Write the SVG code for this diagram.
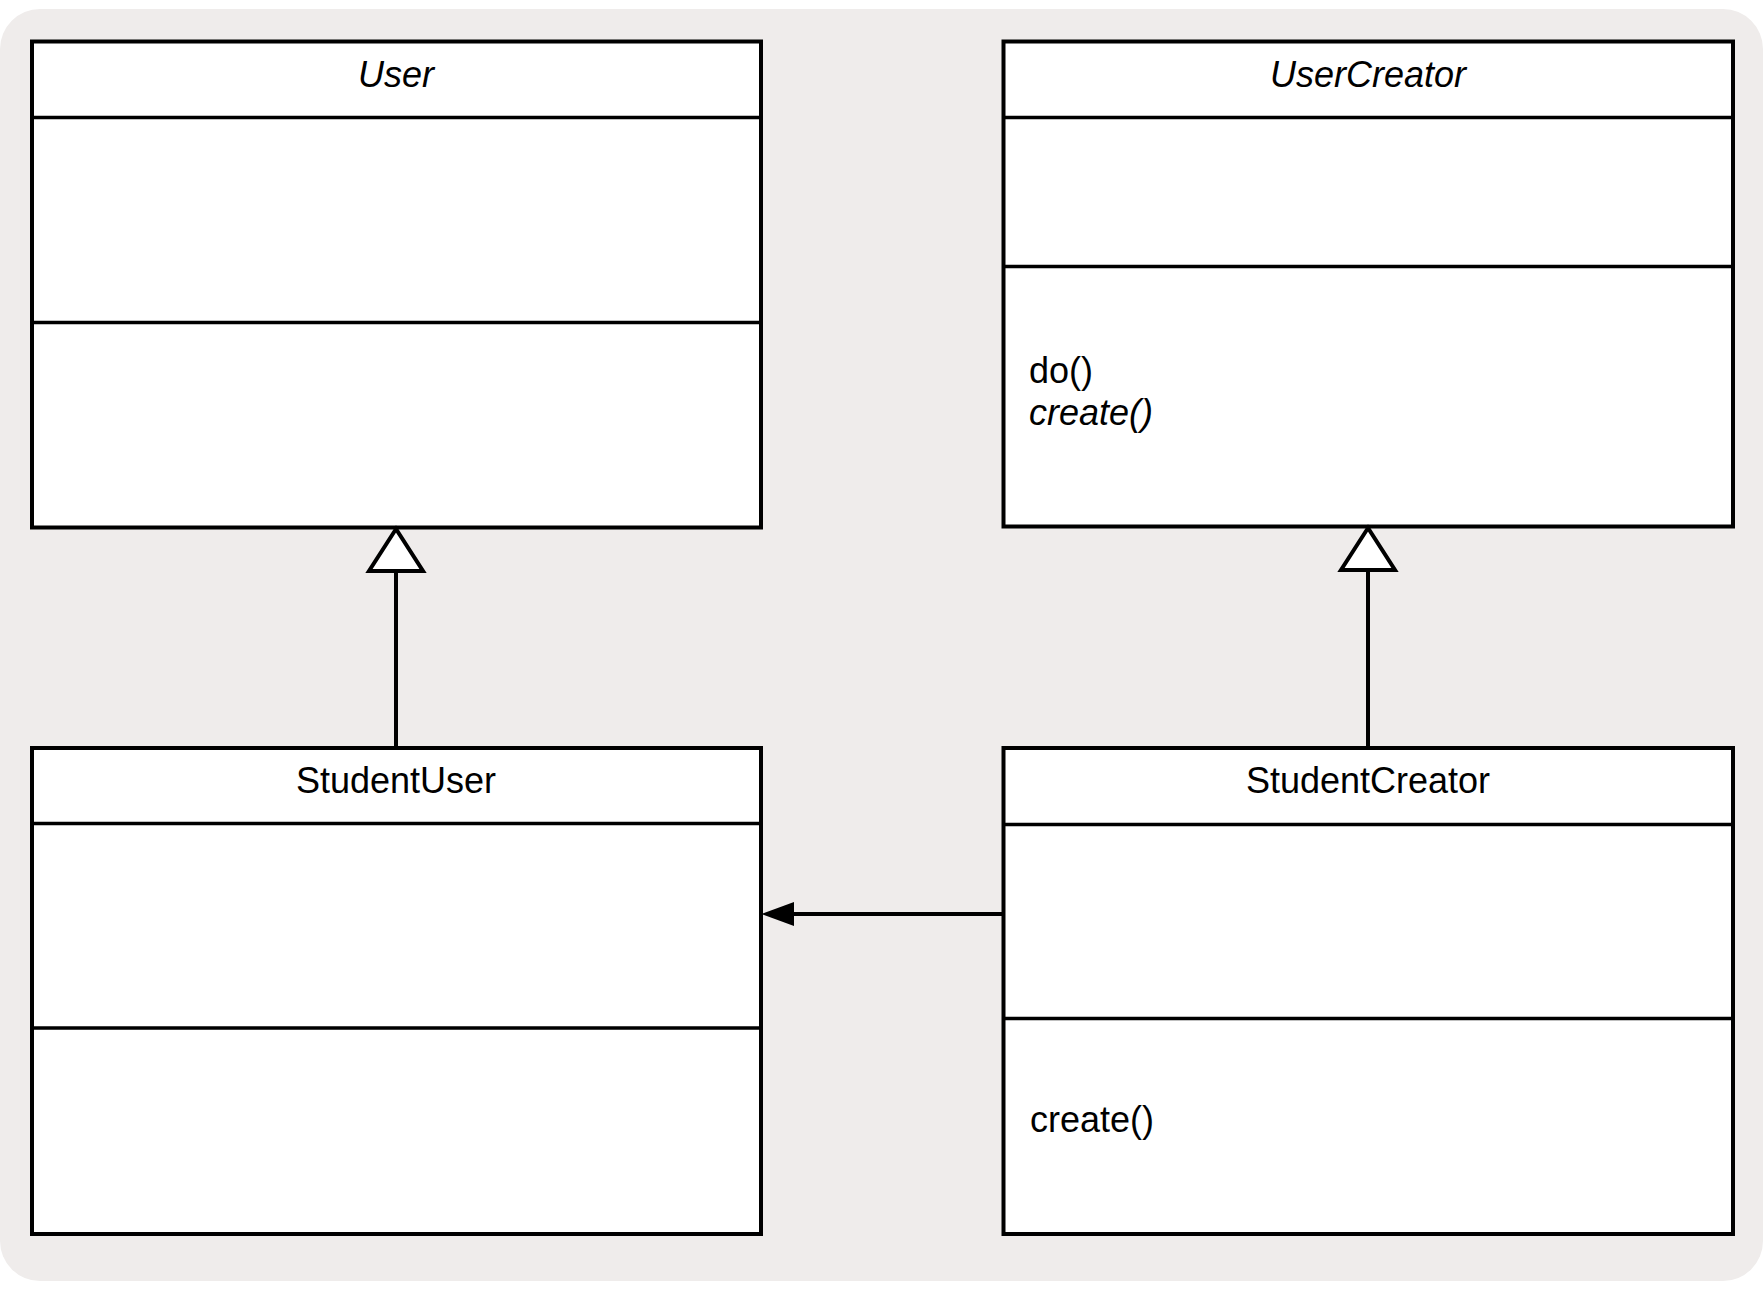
<svg xmlns="http://www.w3.org/2000/svg" width="1763" height="1290" viewBox="0 0 1763 1290">
<style>
.box{fill:#ffffff;stroke:#000000;stroke-width:4}
.div{stroke:#000000;stroke-width:3.5;fill:none}
.t{font-family:"Liberation Sans",Arial,sans-serif;font-size:36px;fill:#000000}
.c{text-anchor:middle}
.i{font-style:italic}
.conn{stroke:#000000;stroke-width:4;fill:none}
.tri{fill:#ffffff;stroke:#000000;stroke-width:4}
</style>
<rect x="0" y="9" width="1763" height="1272" rx="40" ry="40" fill="#efeceb"/>
<g id="User">
<rect class="box" x="32" y="41.5" width="729" height="486"/>
<line class="div" x1="32" y1="117.5" x2="761" y2="117.5"/>
<line class="div" x1="32" y1="322.5" x2="761" y2="322.5"/>
<text class="t c i" x="396" y="87">User</text>
</g>
<g id="UserCreator">
<rect class="box" x="1003.5" y="41.5" width="729.5" height="485"/>
<line class="div" x1="1003.5" y1="117.5" x2="1733" y2="117.5"/>
<line class="div" x1="1003.5" y1="266.5" x2="1733" y2="266.5"/>
<text class="t c i" x="1368" y="87">UserCreator</text>
<text class="t" x="1029" y="383">do()</text>
<text class="t i" x="1029" y="425">create()</text>
</g>
<g id="StudentUser">
<rect class="box" x="32" y="748" width="729" height="486"/>
<line class="div" x1="32" y1="823.5" x2="761" y2="823.5"/>
<line class="div" x1="32" y1="1028" x2="761" y2="1028"/>
<text class="t c" x="396" y="793">StudentUser</text>
</g>
<g id="StudentCreator">
<rect class="box" x="1003.5" y="748" width="729.5" height="486"/>
<line class="div" x1="1003.5" y1="824.5" x2="1733" y2="824.5"/>
<line class="div" x1="1003.5" y1="1018.5" x2="1733" y2="1018.5"/>
<text class="t c" x="1368" y="793">StudentCreator</text>
<text class="t" x="1030" y="1132">create()</text>
</g>
<g id="connectors">
<line class="conn" x1="396" y1="746.5" x2="396" y2="570"/>
<path class="tri" d="M396,529 L369,571 L423,571 Z"/>
<line class="conn" x1="1368" y1="746.5" x2="1368" y2="570"/>
<path class="tri" d="M1368,528 L1341,570 L1395,570 Z"/>
<line class="conn" x1="1002" y1="914" x2="792" y2="914"/>
<path d="M761.5,914 L794,902 L794,926 Z" fill="#000000"/>
</g>
</svg>
